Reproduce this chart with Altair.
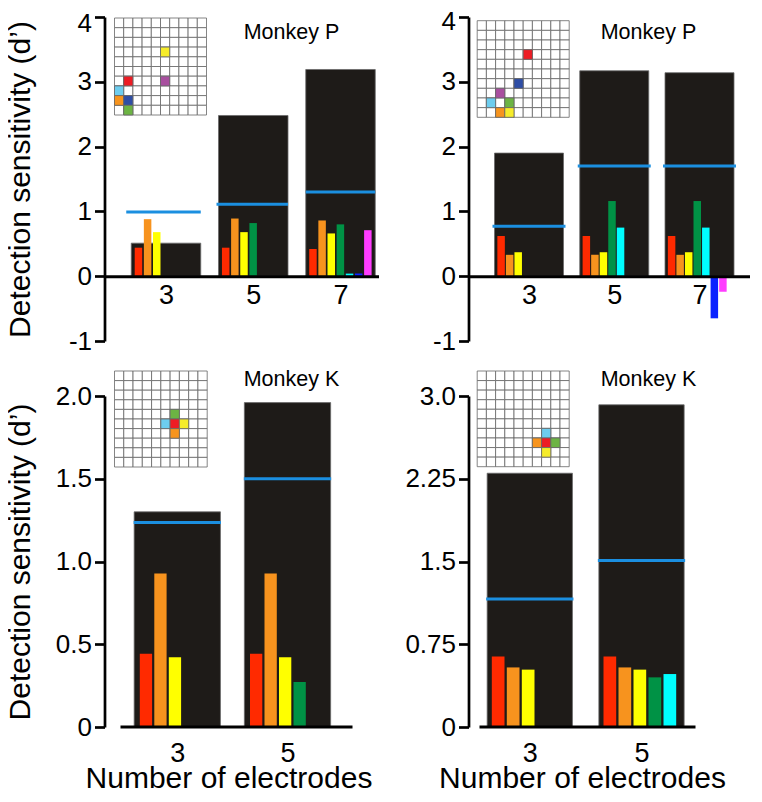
import json
import altair as alt
import pandas as pd

FONT = "Liberation Sans, Arial, Helvetica, sans-serif"

# ---------------- data ----------------
ELECTRODES = ["red", "orange", "yellow", "green", "cyan", "blue", "magenta"]

GROUPS_P = ["3", "5", "7"]
GROUPS_K = ["3", "5"]

# Top-left (Monkey P)
TL_TOTAL = [0.51, 2.48, 3.19]
TL_LINE = [0.99, 1.11, 1.30]
TL_SINGLE = [
    [0.44, 0.88, 0.68],
    [0.44, 0.89, 0.68, 0.82],
    [0.42, 0.86, 0.66, 0.80, 0.04, 0.04, 0.71],
]
TL_SITES_ROW = [3, 6, 6, 7, 8, 8, 9]
TL_SITES_COL = [5, 1, 5, 0, 0, 1, 1]
TL_SITES_EL = ["yellow", "red", "magenta", "cyan", "orange", "blue", "green"]

# Top-right (Monkey P)
TR_TOTAL = [1.90, 3.17, 3.14]
TR_LINE = [0.77, 1.70, 1.70]
TR_SINGLE = [
    [0.62, 0.33, 0.37],
    [0.62, 0.33, 0.37, 1.16, 0.75],
    [0.62, 0.33, 0.37, 1.16, 0.75, -0.65, -0.24],
]
TR_SITES_ROW = [3, 6, 7, 8, 8, 9, 9]
TR_SITES_COL = [5, 4, 2, 1, 3, 2, 3]
TR_SITES_EL = ["red", "blue", "magenta", "cyan", "green", "orange", "yellow"]

# Bottom-left (Monkey K)
BL_TOTAL = [1.30, 1.96]
BL_LINE = [1.235, 1.50]
BL_SINGLE = [
    [0.443, 0.927, 0.421],
    [0.443, 0.927, 0.421, 0.272],
]
BL_SITES_ROW = [4, 5, 5, 5, 6]
BL_SITES_COL = [6, 5, 6, 7, 6]
BL_SITES_EL = ["green", "cyan", "red", "yellow", "orange"]

# Bottom-right (Monkey K)
BR_TOTAL = [2.30, 2.92]
BR_LINE = [1.16, 1.51]
BR_SINGLE = [
    [0.64, 0.54, 0.52],
    [0.64, 0.54, 0.52, 0.45, 0.48],
]
BR_SITES_ROW = [6, 7, 7, 7, 8]
BR_SITES_COL = [7, 6, 7, 8, 7]
BR_SITES_EL = ["cyan", "orange", "red", "green", "yellow"]

# y axes
P_YTICKS = [-1, 0, 1, 2, 3, 4]
P_YLABELS = ["-1", "0", "1", "2", "3", "4"]
BL_YTICKS = [0, 0.5, 1.0, 1.5, 2.0]
BL_YLABELS = ["0", "0.5", "1.0", "1.5", "2.0"]
BR_YTICKS = [0, 0.75, 1.5, 2.25, 3.0]
BR_YLABELS = ["0", "0.75", "1.5", "2.25", "3.0"]

# ---------------- styles ----------------
BAR_COLORS = {"red": "#ff2a00", "orange": "#f7931e", "yellow": "#ffff00",
              "green": "#009245", "cyan": "#00ffff", "blue": "#0a22ff",
              "magenta": "#ff3cff"}
SITE_COLORS = {"red": "#ed1c24", "orange": "#f7941d", "yellow": "#f6ec2a",
               "green": "#6cb443", "cyan": "#6dcdef", "blue": "#2e4ea6",
               "magenta": "#a84f9f"}
BLACK = "#1e1b18"
LINE_BLUE = "#1b8fe0"

TOP_H = 324
BOT_H = 331


def panel(groups, totals, lines, singles, srow, scol, sel, ydom, yticks, ylabels,
          W, H, lay, box, monkey, mpos, is_left, is_bottom, top_label_shift=0):
    step = lay["step"]
    c0 = lay["c0"]

    def u(px):
        return px / step

    lo = -c0 / step
    hi = (W - c0) / step
    half = u(lay["bw"] / 2)

    tot = pd.DataFrame({
        "x": [i - half for i in range(len(groups))],
        "x2": [i + half for i in range(len(groups))],
        "y": [0.0] * len(groups),
        "y2": totals,
    })
    rows = []
    for i, vals in enumerate(singles):
        for k, v in enumerate(vals):
            left = i - half + u(lay["soff"] - lay["sw"] / 2 + k * lay["sstep"])
            rows.append({"x": left, "x2": left + u(lay["sw"]), "y": 0.0, "y2": v,
                         "fill": BAR_COLORS[ELECTRODES[k]]})
    sing = pd.DataFrame(rows)
    ext_l = lay.get("ext_l", [lay["ext"]] * len(groups))
    ln = pd.DataFrame({
        "x": [i - half - u(ext_l[i]) for i in range(len(groups))],
        "x2": [i + half + u(lay["ext"]) for i in range(len(groups))],
        "y": lines,
    })

    xs = alt.Scale(domain=[lo, hi], nice=False, zero=False)
    ys = alt.Scale(domain=ydom, nice=False, zero=False)

    v0 = yticks[0]
    dv = yticks[1] - yticks[0]
    yaxis_kw = dict(values=yticks,
                    labelExpr=f"{json.dumps(ylabels)}[round((datum.value - ({v0})) / {dv})]",
                    domainWidth=2.7, domainColor="black", tickWidth=2.7, tickColor="black",
                    tickSize=10, labelFontSize=26, labelPadding=3, labelFont=FONT,
                    labelColor="black", grid=False, labelFlush=False, labelOverlap=False)
    if top_label_shift:
        yaxis_kw["labelOffset"] = {"condition": {"test": f"datum.value === {yticks[-1]}",
                                                 "value": top_label_shift}, "value": 0}
    if is_left:
        yaxis_kw.update(title="Detection sensitivity (d\u2019)", titleFontSize=30,
                        titleFont=FONT, titleFontWeight="normal", titleColor="black",
                        titleX=-75, titleY=H / 2, titleAngle=270, titleAlign="center",
                        titleBaseline="alphabetic")
    else:
        yaxis_kw.update(title=None)
    yaxis = alt.Axis(**yaxis_kw)

    xaxis_kw = dict(values=list(range(len(groups))),
                    labelExpr=f"{json.dumps(groups)}[round(datum.value)]",
                    ticks=False, labelFontSize=27, labelFont=FONT, labelColor="black",
                    grid=False, labelFlush=False, labelOverlap=False, zindex=1)
    if is_bottom:
        xaxis_kw.update(domain=False, labelPadding=13, title="Number of electrodes",
                        titleFontSize=30, titleFont=FONT, titleFontWeight="normal",
                        titleColor="black", titleX=W / 2, titleY=60,
                        titleBaseline="alphabetic", titleAlign="center")
    else:
        off = -H * (0 - ydom[0]) / (ydom[1] - ydom[0])
        xaxis_kw.update(domain=True, domainWidth=3, domainColor="black",
                        labelPadding=6, offset=off, title=None)
    xaxis = alt.Axis(**xaxis_kw)

    enc_x = alt.X("x:Q", scale=xs, axis=xaxis)
    enc_y = alt.Y("y:Q", scale=ys, axis=yaxis)

    black = alt.Chart(tot).mark_rect(color=BLACK, stroke="#6a6a6a", strokeWidth=0.8).encode(
        x=enc_x, x2="x2:Q", y=enc_y, y2="y2:Q")
    small = alt.Chart(sing).mark_rect().encode(
        x=enc_x, x2="x2:Q", y=enc_y, y2="y2:Q", fill=alt.Fill("fill:N", scale=None))
    blue = alt.Chart(ln).mark_rule(color=LINE_BLUE, strokeWidth=3).encode(
        x=enc_x, x2="x2:Q", y=enc_y)
    layers = [black, small, blue]
    if is_bottom:
        base = pd.DataFrame({"x": [u(lay["base0"]) + lo], "x2": [hi], "y": [0.0]})
        layers.append(alt.Chart(base).mark_rule(color="black", strokeWidth=3).encode(
            x=enc_x, x2="x2:Q", y=enc_y))
    txt = alt.Chart(pd.DataFrame({"t": [monkey]})).mark_text(
        font=FONT, fontSize=21.5, align="center", baseline="alphabetic", color="black"
    ).encode(text="t:N", x=alt.value(mpos[0]), y=alt.value(mpos[1]))
    layers.append(txt)
    main = alt.layer(*layers)

    # electrode-array inset (10 x 10 grid)
    L, R, T, B = box
    xspan = 10 * W / (R - L)
    xlo = -L * xspan / W
    yspan = 10 * H / (B - T)
    ylo = -T * yspan / H
    gxs = alt.Scale(domain=[xlo, xlo + xspan], nice=False, zero=False)
    gys = alt.Scale(domain=[ylo, ylo + yspan], nice=False, zero=False, reverse=True)
    cells = pd.DataFrame([{"c": c, "c2": c + 1, "r": r, "r2": r + 1}
                          for r in range(10) for c in range(10)])
    sites = pd.DataFrame({"c": scol, "c2": [c + 1 for c in scol],
                          "r": srow, "r2": [r + 1 for r in srow],
                          "fill": [SITE_COLORS[e] for e in sel]})
    grid = alt.Chart(cells).mark_rect(fill="white", stroke="#666666", strokeWidth=0.8).encode(
        x=alt.X("c:Q", scale=gxs, axis=None), x2="c2:Q",
        y=alt.Y("r:Q", scale=gys, axis=None), y2="r2:Q")
    colored = alt.Chart(sites).mark_rect(stroke="#666666", strokeWidth=0.8).encode(
        x=alt.X("c:Q", scale=gxs, axis=None), x2="c2:Q",
        y=alt.Y("r:Q", scale=gys, axis=None), y2="r2:Q",
        fill=alt.Fill("fill:N", scale=None))
    inset = alt.layer(grid, colored)

    return alt.layer(main, inset).resolve_scale(x="independent", y="independent").properties(
        width=W, height=H)


tl = panel(GROUPS_P, TL_TOTAL, TL_LINE, TL_SINGLE, TL_SITES_ROW, TL_SITES_COL, TL_SITES_EL,
           [-1, 4], P_YTICKS, P_YLABELS, 274, TOP_H,
           dict(c0=61.5, step=87.25, bw=69.5, soff=7.2, sstep=9.15, sw=7.5, ext=0,
                ext_l=[5, 2, 0]),
           (10, 102, 1, 98), "Monkey P", (187, 22), True, False, top_label_shift=6)
tr = panel(GROUPS_P, TR_TOTAL, TR_LINE, TR_SINGLE, TR_SITES_ROW, TR_SITES_COL, TR_SITES_EL,
           [-1, 4], P_YTICKS, P_YLABELS, 281, TOP_H,
           dict(c0=60.5, step=85.25, bw=69, soff=6.6, sstep=8.55, sw=7.5, ext=2),
           (8.7, 100.7, 3.7, 100.3), "Monkey P", (180, 22), False, False, top_label_shift=4)
bl = panel(GROUPS_K, BL_TOTAL, BL_LINE, BL_SINGLE, BL_SITES_ROW, BL_SITES_COL, BL_SITES_EL,
           [0, 2.0], BL_YTICKS, BL_YLABELS, 248, BOT_H,
           dict(c0=72.8, step=110.2, bw=86.3, soff=11.8, sstep=14.5, sw=12.3, ext=0.5, base0=16),
           (10, 102.7, -25, 71), "Monkey K", (187, -10), True, True)
br = panel(GROUPS_K, BR_TOTAL, BR_LINE, BR_SINGLE, BR_SITES_ROW, BR_SITES_COL, BR_SITES_EL,
           [0, 3.0], BR_YTICKS, BR_YLABELS, 227, BOT_H,
           dict(c0=61.3, step=111.7, bw=85.3, soff=11, sstep=15, sw=12.7, ext=1, base0=11),
           (8.7, 100.7, -25, 70.7), "Monkey K", (180, -10), False, True)

chart = alt.concat(tl, tr, bl, br, columns=2, spacing={"row": 55, "column": 90},
                   bounds="flush").properties(
    padding={"left": -3.5, "top": 0, "right": 0, "bottom": 0},
    background="white",
).configure_view(stroke=None)

chart.save("out.html", embed_options={"renderer": "svg", "actions": False})
